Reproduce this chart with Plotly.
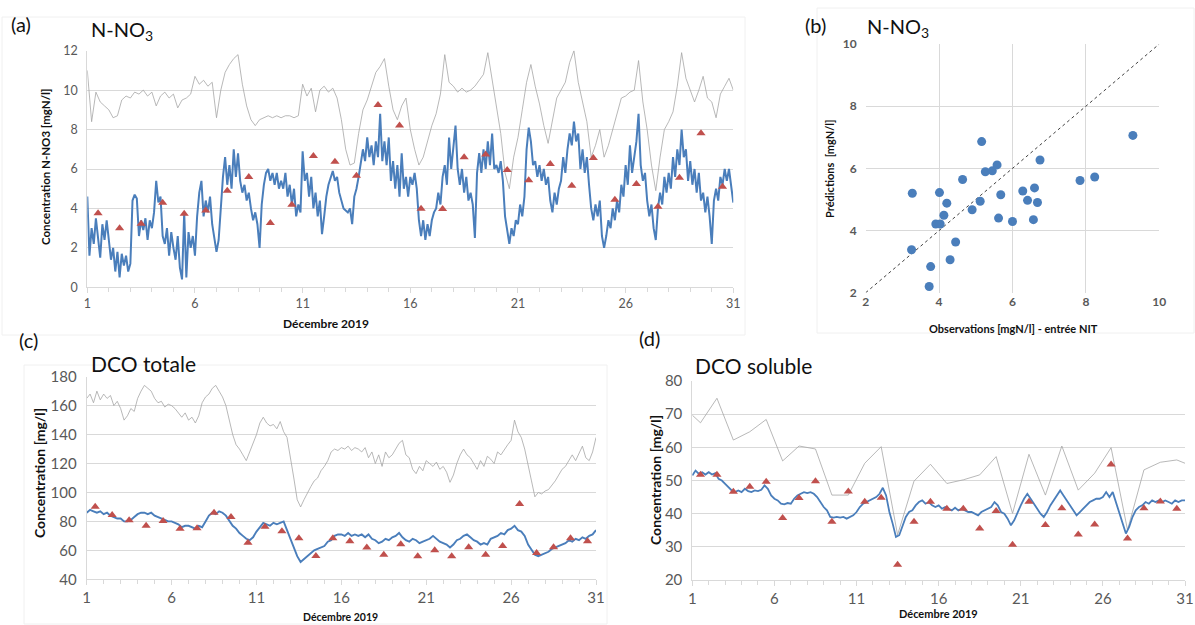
import plotly.graph_objects as go

W, H = 1195, 625

# ---- data ----
# time grids (days of december)
days = [1 + i * 0.2 for i in range(151)]        # 5 samples per day
days_fine = [1 + i * 0.1 for i in range(301)]   # 10 samples per day

# (a) N-NO3 : inlet (grey), model (blue), lab samples (red triangles)
no3_inlet = [11.0, 8.4, 9.9, 9.4, 9.2, 9.0, 8.6, 8.7, 9.5, 9.7, 9.6, 9.9, 9.8, 10.0, 9.7,
             9.9, 9.2, 9.7, 9.9, 9.6, 9.8, 9.1, 9.5, 9.6, 9.8, 10.7, 10.3, 10.5, 10.2, 10.4,
             8.6, 10.0, 10.9, 11.3, 11.6, 11.8, 10.3, 9.2, 8.5, 8.2, 8.5, 8.6, 8.7, 8.6, 8.7,
             8.6, 8.7, 8.7, 8.6, 8.7, 10.3, 9.7, 10.1, 8.9, 10.0, 10.2, 9.9, 10.1, 9.6, 8.5,
             7.0, 6.2, 6.3, 7.8, 9.0, 9.5, 10.2, 10.9, 11.2, 11.6, 10.2, 9.0, 8.5, 9.2, 9.6,
             8.0, 7.0, 6.2, 6.6, 7.4, 8.2, 8.8, 9.8, 11.8, 10.4, 10.2, 9.9, 10.1, 9.9, 10.0,
             10.2, 10.5, 10.8, 11.9, 10.6, 9.2, 7.8, 5.8, 5.0, 6.6, 7.6, 9.0, 10.4, 11.3, 10.2,
             9.3, 8.2, 7.3, 8.4, 9.6, 10.0, 10.4, 11.4, 12.0, 10.4, 9.4, 8.4, 6.6, 7.2, 8.0,
             6.6, 7.2, 8.0, 8.8, 9.6, 9.7, 9.9, 10.0, 11.5, 9.4, 8.0, 6.2, 4.9, 6.6, 8.0,
             8.4, 8.9, 10.2, 11.9, 10.6, 10.0, 9.4, 10.0, 10.7, 9.6, 9.4, 8.6, 9.8, 10.2, 10.6,
             10.0]
no3_model = [4.6, 1.6, 3.0, 2.2, 3.5, 2.4, 1.5, 3.2, 2.4, 3.4,
             2.2, 1.4, 2.0, 0.8, 1.8, 0.5, 1.7, 1.1, 1.6, 0.8,
             1.2, 4.4, 4.7, 4.5, 2.6, 3.4, 2.9, 3.5, 2.4, 3.4,
             3.0, 3.8, 5.4, 4.3, 4.6, 2.6, 2.2, 3.0, 1.6, 2.8,
             2.0, 1.4, 2.6, 1.0, 0.4, 3.8, 0.5, 2.8, 2.0, 2.6,
             1.6, 3.6, 4.8, 5.4, 3.6, 4.4, 3.8, 4.6, 3.2, 2.4,
             1.8, 2.4, 4.2, 5.6, 6.6, 5.2, 6.2, 5.0, 7.0, 5.6,
             6.8, 5.4, 4.8, 5.2, 4.4, 4.8, 4.0, 3.4, 3.8, 3.2,
             2.0, 4.2, 5.2, 5.8, 6.0, 5.4, 5.8, 5.2, 5.8, 5.0,
             5.4, 5.0, 5.8, 4.6, 5.2, 4.2, 5.0, 3.6, 4.2, 3.8,
             6.9, 5.4, 5.8, 4.6, 5.6, 4.0, 4.8, 3.6, 4.4, 2.7,
             3.6, 4.6, 5.2, 5.6, 5.9, 5.4, 5.6, 4.8, 4.4, 4.0,
             3.9, 3.8, 4.0, 3.2, 4.6, 5.0, 5.6, 6.4, 7.0, 6.4,
             7.6, 6.6, 7.2, 6.2, 7.4, 6.6, 8.8, 6.4, 7.4, 6.2,
             7.6, 5.4, 6.4, 5.0, 6.2, 4.6, 6.8, 5.0, 5.6, 4.6,
             5.6, 5.2, 5.8, 5.0, 3.4, 2.6, 3.4, 2.4, 3.2, 2.6,
             3.4, 3.8, 4.0, 4.8, 4.2, 5.6, 6.2, 5.2, 7.6, 6.0,
             7.0, 8.2, 6.0, 5.2, 6.0, 4.8, 5.6, 4.4, 4.8, 4.2,
             2.5, 5.8, 6.8, 5.8, 7.0, 6.0, 7.4, 6.2, 7.8, 6.0,
             6.2, 5.8, 6.4, 5.4, 3.6, 2.8, 2.2, 3.0, 2.6, 3.4,
             3.2, 4.2, 3.6, 4.6, 7.0, 8.1, 7.4, 6.2, 6.4, 5.6,
             6.2, 5.4, 6.0, 5.2, 5.6, 4.4, 3.8, 4.8, 4.2, 5.0,
             5.4, 6.6, 5.8, 7.0, 7.8, 7.2, 8.4, 7.4, 7.8, 6.0,
             7.0, 5.8, 6.6, 5.2, 4.0, 3.4, 4.2, 3.6, 4.4, 2.6,
             2.0, 2.6, 3.4, 3.0, 4.0, 3.4, 4.4, 3.8, 5.2, 4.6,
             6.2, 5.2, 7.2, 5.8, 6.6, 7.4, 8.8, 6.2, 5.4, 5.8,
             4.4, 3.6, 4.2, 3.0, 2.4, 4.0, 4.8, 4.2, 5.6, 4.8,
             5.8, 5.0, 6.6, 5.6, 7.0, 6.2, 8.0, 6.6, 7.0, 5.4,
             6.4, 5.2, 6.0, 4.8, 5.8, 4.4, 4.8, 3.8, 4.6, 3.6,
             2.2, 4.4, 5.0, 4.4, 5.6, 5.2, 6.0, 5.4, 6.0, 5.2,
             4.3]
sample_days = [d + 0.5 for d in range(1, 31)]
no3_obs = [3.75, 3.0, 3.22, 4.29, 3.73, 3.9, 4.9, 5.59, 3.26, 4.19, 6.66, 6.37, 5.66, 9.24, 8.21,
           3.99, 3.97, 6.59, 6.74, 5.95, 5.43, 6.25, 5.15, 6.56, 4.44, 5.24, 4.09, 5.56, 7.81, 5.10]

# (b) predictions vs observations
obs_x = [3.27, 3.25, 3.77, 3.73, 3.91, 4.03, 4.01, 4.13, 4.21, 4.45, 4.30, 4.64, 4.90, 5.12, 5.16,
         5.26, 5.45, 5.58, 5.62, 5.68, 6.00, 6.28, 6.41, 6.60, 6.57, 6.68, 6.75, 7.84, 8.24, 9.28]
pred_y = [5.20, 3.38, 2.84, 2.20, 4.21, 4.21, 5.22, 4.49, 4.88, 3.63, 3.06, 5.64, 4.67, 4.94, 6.86,
          5.89, 5.92, 6.11, 4.40, 5.15, 4.29, 5.27, 4.97, 5.37, 4.35, 4.90, 6.27, 5.61, 5.72, 7.06]
diag = [2, 10]

# (c) DCO totale
dco_inlet = [165, 168, 162, 170, 164, 168, 165, 167, 160, 163, 158, 150, 153, 158, 156,
             165, 170, 174, 172, 170, 165, 162, 163, 159, 161, 160, 158, 155, 152, 155,
             150, 152, 148, 153, 162, 166, 168, 172, 174, 170, 166, 160, 150, 140, 133,
             130, 126, 122, 128, 134, 140, 148, 152, 148, 146, 147, 144, 149, 142, 138,
             125, 110, 95, 90, 95, 100, 104, 108, 110, 115, 118, 122, 128, 130, 129,
             131, 130, 132, 129, 131, 130, 128, 131, 124, 128, 120, 126, 118, 128, 124,
             126, 130, 134, 136, 126, 124, 116, 113, 118, 115, 122, 120, 118, 121, 116,
             118, 114, 107, 112, 120, 126, 130, 126, 124, 120, 116, 122, 118, 125, 123,
             120, 128, 126, 130, 133, 136, 150, 142, 138, 130, 120, 108, 97, 100, 99,
             101, 102, 105, 108, 112, 116, 118, 122, 126, 122, 127, 132, 124, 122, 128,
             138]
dco_model = [86, 88, 87, 86, 87, 85, 86, 84, 83, 82, 82, 80, 80, 81, 83,
             85, 86, 86, 85, 86, 84, 83, 82, 81, 80, 80, 79, 78, 76, 77,
             77, 76, 75, 77, 76, 80, 84, 86, 85, 87, 86, 84, 80, 77, 75,
             72, 70, 68, 67, 69, 73, 76, 79, 78, 77, 79, 78, 79, 80, 74,
             68, 62, 56, 52, 54, 56, 58, 60, 61, 62, 63, 66, 67, 70, 71,
             71, 70, 72, 70, 71, 70, 71, 69, 71, 68, 67, 65, 66, 68, 67,
             69, 70, 72, 69, 67, 66, 68, 67, 65, 66, 67, 68, 70, 68, 66,
             65, 64, 62, 64, 67, 68, 70, 71, 69, 67, 66, 64, 65, 64, 68,
             69, 70, 72, 71, 74, 75, 77, 74, 73, 70, 64, 60, 57, 56, 57,
             58, 59, 61, 62, 63, 64, 65, 67, 66, 68, 67, 69, 68, 70, 71,
             74]
dco_obs = [90.2, 84.4, 80.8, 77.0, 80.3, 75.0, 75.2, 86.0, 83.0, 65.3, 76.3, 73.2, 68.3, 56.1, 68.3,
           66.3, 61.9, 57.0, 64.2, 55.9, 60.0, 55.9, 62.1, 57.0, 63.0, 92.0, 58.2, 62.1, 68.3, 66.3]

# (d) DCO soluble
dcos_inlet_days = [1] + sample_days + [31]
dcos_inlet = [69.7, 67.4, 74.8, 62.2, 64.7, 68.4, 55.9, 60.4, 59.5, 45.6, 45.6, 55.2, 60.2, 33.6,
              49.8, 54.9, 49.1, 50.2, 51.7, 57.2, 40.1, 57.9, 45.6, 60.4, 47.1, 52.2, 59.9, 35.1,
              53.2, 55.5, 56.2, 55.2]
dcos_model = [51.5, 53.0, 52.0, 52.5, 51.8, 52.5, 51.8, 52.2, 50.5, 50.0, 49.0, 48.0, 47.0, 46.5, 47.0,
              46.5, 47.5, 46.8, 46.5, 47.0, 46.8, 47.2, 48.5, 47.5, 45.5, 44.5, 44.0, 43.0, 42.8, 43.2,
              43.0, 44.5, 45.5, 46.0, 46.5, 46.2, 46.5, 46.0, 45.0, 43.5, 42.0, 41.0, 39.0, 38.8, 39.0,
              38.8, 39.0, 38.5, 39.0, 39.5, 40.5, 42.0, 43.0, 43.5, 44.0, 44.5, 45.0, 46.0, 47.8, 45.5,
              40.5, 37.0, 33.0, 33.5, 36.5, 39.0, 40.5, 41.0, 42.5, 43.5, 44.0, 43.0, 43.5, 42.5, 42.0,
              42.5, 41.5, 42.0, 41.5, 41.0, 41.8, 41.0, 41.5, 41.0, 40.5, 40.5, 40.0, 39.5, 40.5, 41.0,
              41.5, 42.0, 43.5, 42.5, 40.5, 40.0, 38.5, 36.5, 38.0, 40.5, 42.5, 44.5, 46.0, 44.5, 43.0,
              41.5, 40.0, 39.0, 40.5, 42.5, 44.0, 45.5, 47.0, 45.5, 44.0, 42.5, 41.0, 39.5, 40.5, 41.5,
              42.5, 43.5, 44.0, 44.5, 44.5, 45.0, 46.5, 45.0, 46.5, 43.5, 40.5, 37.5, 34.0, 36.0, 39.0,
              41.0, 42.0, 42.5, 43.5, 43.0, 44.0, 43.5, 44.0, 43.5, 44.0, 43.5, 43.0, 44.0, 43.5, 44.0,
              44.0]
dcos_obs = [51.7, 51.7, 46.6, 48.1, 49.6, 38.7, 44.7, 49.8, 37.6, 46.7, 43.6, 44.8, 24.6, 37.6, 43.6,
            41.5, 41.5, 35.5, 40.8, 30.6, 43.6, 36.6, 41.6, 33.7, 36.7, 54.8, 32.5, 41.6, 43.7, 41.5]

day_ticks = [1, 6, 11, 16, 21, 26, 31]

# ---- styling ----
FONT = "Lato"
GREY_LINE = "#a6a6a6"
BLUE = "#4a7ebb"
RED = "#c0504d"
GRID = "#d9d9d9"
TICK = "#595959"


def px(x):
    return x / W


def py(y):
    return 1 - y / H


fig = go.Figure()


def add_panel(xa, ya, x_days, inlet, model, obs, inlet_x, lw=1.6, ms=8):
    fig.add_trace(go.Scatter(x=inlet_x, y=inlet, mode="lines", xaxis=xa, yaxis=ya,
                             line=dict(color=GREY_LINE, width=0.8), hoverinfo="skip"))
    fig.add_trace(go.Scatter(x=x_days, y=model, mode="lines", xaxis=xa, yaxis=ya,
                             line=dict(color=BLUE, width=lw)))
    fig.add_trace(go.Scatter(x=sample_days, y=obs, mode="markers", xaxis=xa, yaxis=ya,
                             marker=dict(symbol="triangle-up", size=ms, color=RED)))


add_panel("x", "y", days_fine, no3_inlet, no3_model, no3_obs, days, lw=2.0, ms=8)
add_panel("x3", "y3", days, dco_inlet, dco_model, dco_obs, days, lw=1.9, ms=8)
add_panel("x4", "y4", days, dcos_inlet, dcos_model, dcos_obs, dcos_inlet_days, lw=1.8, ms=8)

fig.add_trace(go.Scatter(x=diag, y=diag, mode="lines", xaxis="x2", yaxis="y2",
                         line=dict(color="#404040", width=1, dash="dot")))
fig.add_trace(go.Scatter(x=obs_x, y=pred_y, mode="markers", xaxis="x2", yaxis="y2",
                         marker=dict(size=9, color=BLUE)))


def time_x(dom, anchor, size):
    return dict(domain=dom, anchor=anchor, range=[1, 31], tickvals=day_ticks, automargin=False,
                showgrid=False, zeroline=False, showline=True, linecolor=GRID,
                ticks="outside", ticklen=5, tickcolor=GRID,
                minor=dict(tick0=1, dtick=1, ticks="outside", ticklen=4, tickcolor=GRID),
                tickfont=dict(family=FONT, size=size, color=TICK))


def conc_y(dom, anchor, rng, dtick, size):
    return dict(domain=dom, anchor=anchor, range=rng, dtick=dtick, showgrid=True, automargin=False,
                gridcolor=GRID, zeroline=False, showline=True, linecolor=GRID,
                ticks="", ticklabelstandoff=6,
                tickfont=dict(family=FONT, size=size, color=TICK))


fig.update_layout(
    width=W, height=H, autosize=False, showlegend=False,
    margin=dict(l=0, r=0, t=0, b=0, autoexpand=False),
    paper_bgcolor="white", plot_bgcolor="white",
    font=dict(family=FONT, color="#222"),
    xaxis=time_x([px(87.3), px(733.3)], "y", 12.5),
    yaxis=conc_y([py(287.3), py(50.7)], "x", [0, 12], 2, 12.5),
    xaxis2=dict(domain=[px(865.7), px(1159.3)], anchor="y2", range=[2, 10], dtick=2,
                automargin=False, showgrid=True, gridcolor=GRID, zeroline=False, ticks="",
                tickfont=dict(family=FONT, size=12, color=TICK, weight="bold")),
    yaxis2=dict(domain=[py(292.7), py(44)], anchor="x2", range=[2, 10], dtick=2,
                automargin=False, showgrid=True, gridcolor=GRID, zeroline=False, ticks="",
                ticklabelstandoff=8,
                tickfont=dict(family=FONT, size=12, color=TICK, weight="bold")),
    xaxis3=time_x([px(86.7), px(596)], "y3", 15),
    yaxis3=conc_y([py(579.3), py(376.7)], "x3", [40, 180], 20, 15),
    xaxis4=time_x([px(692.3), px(1185)], "y4", 15),
    yaxis4=conc_y([py(580), py(381)], "x4", [20, 80], 10, 15),
)


def label(x, y, text, size=20, bold=False, angle=0, xanchor="center"):
    fig.add_annotation(x=px(x), y=py(y), xref="paper", yref="paper", text=text,
                       showarrow=False, textangle=angle, xanchor=xanchor, yanchor="middle",
                       font=dict(family=FONT, size=size, color="#111",
                                 weight="bold" if bold else "normal"))


# panel letters and titles
label(9, 24, "(a)", 20, xanchor="left")
label(89, 31, "N-NO<sub>3</sub>", 20, xanchor="left")
label(803, 25, "(b)", 20, xanchor="left")
label(865, 27, "N-NO<sub>3</sub>", 20, xanchor="left")
label(17, 340, "(c)", 20, xanchor="left")
label(89, 363, "DCO totale", 21, xanchor="left")
label(637, 338, "(d)", 20, xanchor="left")
label(693, 365, "DCO soluble", 21, xanchor="left")

# axis titles
label(45, 167, "Concentration N-NO3 [mgN/l]", 11.5, bold=True, angle=-90)
label(326, 323, "Décembre 2019", 12, bold=True)
label(830, 169, "Prédictions  [mgN/l]", 11, bold=True, angle=-90)
label(1013, 328, "Observations [mgN/l] - entrée NIT", 11, bold=True)
label(39, 473, "Concentration [mg/l]", 14, bold=True, angle=-90)
label(340, 617, "Décembre 2019", 10.5, bold=True)
label(655, 480, "Concentration [mg/l]", 14, bold=True, angle=-90)
label(938, 613, "Décembre 2019", 11, bold=True)

# faint chart-area frames
for x0, y0, x1, y1 in [(2, 17, 745, 335), (817, 8, 1194, 333), (24, 365, 607, 624)]:
    fig.add_shape(type="rect", xref="paper", yref="paper", x0=px(x0), y0=py(y1),
                  x1=px(x1), y1=py(y0), line=dict(color="#f0f0f0", width=1), layer="below")

# the page body has a default 8px margin: remove it so the figure fills the window
fig.write_html("out.html", config={"displayModeBar": False},
               post_script="document.body.style.margin='0';"
                           "document.body.style.overflow='hidden';")
